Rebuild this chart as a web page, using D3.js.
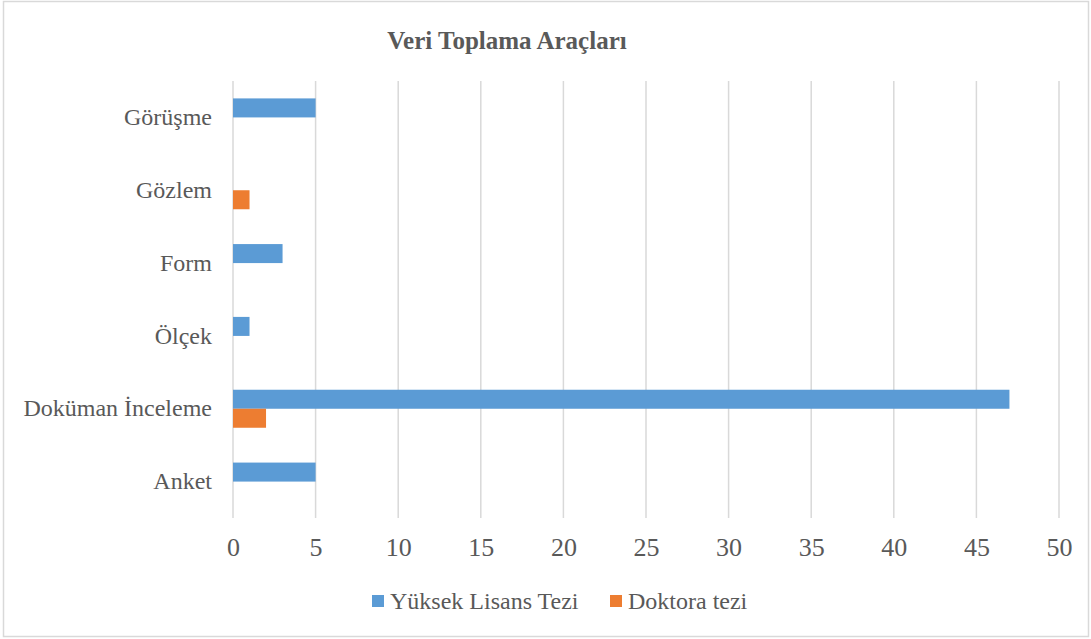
<!doctype html>
<html>
<head>
<meta charset="utf-8">
<style>
    body { margin: 0; background: #fff; }
</style>
<script src="https://d3js.org/d3.v7.min.js"></script>
</head>
<body>

    <svg id="chart" width="1091" height="639"></svg>

    <script>

        // Data
        var categories = ["Görüşme", "Gözlem", "Form", "Ölçek", "Doküman İnceleme", "Anket"];
        var seriesNames = ["Yüksek Lisans Tezi", "Doktora tezi"];
        var yuksekLisans = [5, 0, 3, 1, 47, 5];
        var doktora = [0, 1, 0, 0, 2, 0];
        var xTicks = [0, 5, 10, 15, 20, 25, 30, 35, 40, 45, 50];
        var colors = ["#5b9bd5", "#ed7d31"];

        var FONT = "'Liberation Serif', 'Times New Roman', Times, serif";
        var svg = d3.select("#chart");

        // outer frame
        svg.append("rect")
          .attr("x", 3.5).attr("y", 1.5)
          .attr("width", 1085).attr("height", 635)
          .attr("fill", "none")
          .attr("stroke", "#d9d9d9")
          .attr("stroke-width", 1.5);

        // Scales
        var x = d3.scaleLinear().domain([0, 50]).range([233, 1059]);
        var y = d3.scaleBand().domain(categories).range([81, 518])
          .paddingInner(0.478).paddingOuter(0.239);
        var ySub = d3.scaleBand().domain(seriesNames).range([0, y.bandwidth()]);

        // gridlines
        svg.append("g")
          .selectAll("line")
          .data(xTicks)
          .enter()
          .append("line")
            .attr("x1", function (d) { return x(d); })
            .attr("x2", function (d) { return x(d); })
            .attr("y1", 81)
            .attr("y2", 518)
            .attr("stroke", "#d9d9d9")
            .attr("stroke-width", 1.5);

        // bars
        var rows = categories.map(function (c, i) {
          return { cat: c, values: [yuksekLisans[i], doktora[i]] };
        });

        svg.append("g")
          .selectAll("g")
          .data(rows)
          .enter()
          .append("g")
            .attr("transform", function (d) { return "translate(0," + y(d.cat) + ")"; })
          .selectAll("rect")
          .data(function (d) { return d.values.map(function (v, j) { return { s: seriesNames[j], v: v, j: j }; }); })
          .enter()
          .append("rect")
            .attr("x", x(0))
            .attr("y", function (d) { return ySub(d.s); })
            .attr("width", function (d) { return x(d.v) - x(0); })
            .attr("height", ySub.bandwidth())
            .attr("fill", function (d) { return colors[d.j]; });

        // category labels
        var yAxis = d3.axisLeft(y).tickSize(0).tickPadding(21);
        svg.append("g")
          .attr("transform", "translate(" + x(0) + ",0)")
          .call(yAxis)
          .attr("font-family", FONT)
          .call(function (g) { g.select(".domain").remove(); })
          .selectAll("text")
            .style("font-family", FONT)
            .style("font-size", "24px")
            .attr("fill", "#595959");

        // x tick labels
        var xAxis = d3.axisBottom(x).tickValues(xTicks).tickSize(0).tickPadding(20);
        svg.append("g")
          .attr("transform", "translate(0,518)")
          .call(xAxis)
          .attr("font-family", FONT)
          .call(function (g) { g.select(".domain").remove(); })
          .selectAll("text")
            .style("font-family", FONT)
            .style("font-size", "26px")
            .attr("fill", "#595959");

        // title
        svg.append("text")
          .attr("x", 507)
          .attr("y", 49)
          .attr("text-anchor", "middle")
          .style("font-family", FONT)
          .style("font-size", "25px")
          .style("font-weight", "bold")
          .attr("fill", "#595959")
          .text("Veri Toplama Araçları");

        // legend
        var legendX = [372, 610];
        var legend = svg.append("g")
          .selectAll("g")
          .data(seriesNames)
          .enter()
          .append("g")
            .attr("transform", function (d, i) { return "translate(" + legendX[i] + ",595)"; });

        legend.append("rect")
          .attr("width", 12).attr("height", 12)
          .attr("fill", function (d, i) { return colors[i]; });

        legend.append("text")
          .attr("x", 18)
          .attr("y", 14)
          .style("font-family", FONT)
          .style("font-size", "24px")
          .attr("fill", "#595959")
          .text(function (d) { return d; });

    </script>

</body>
</html>
